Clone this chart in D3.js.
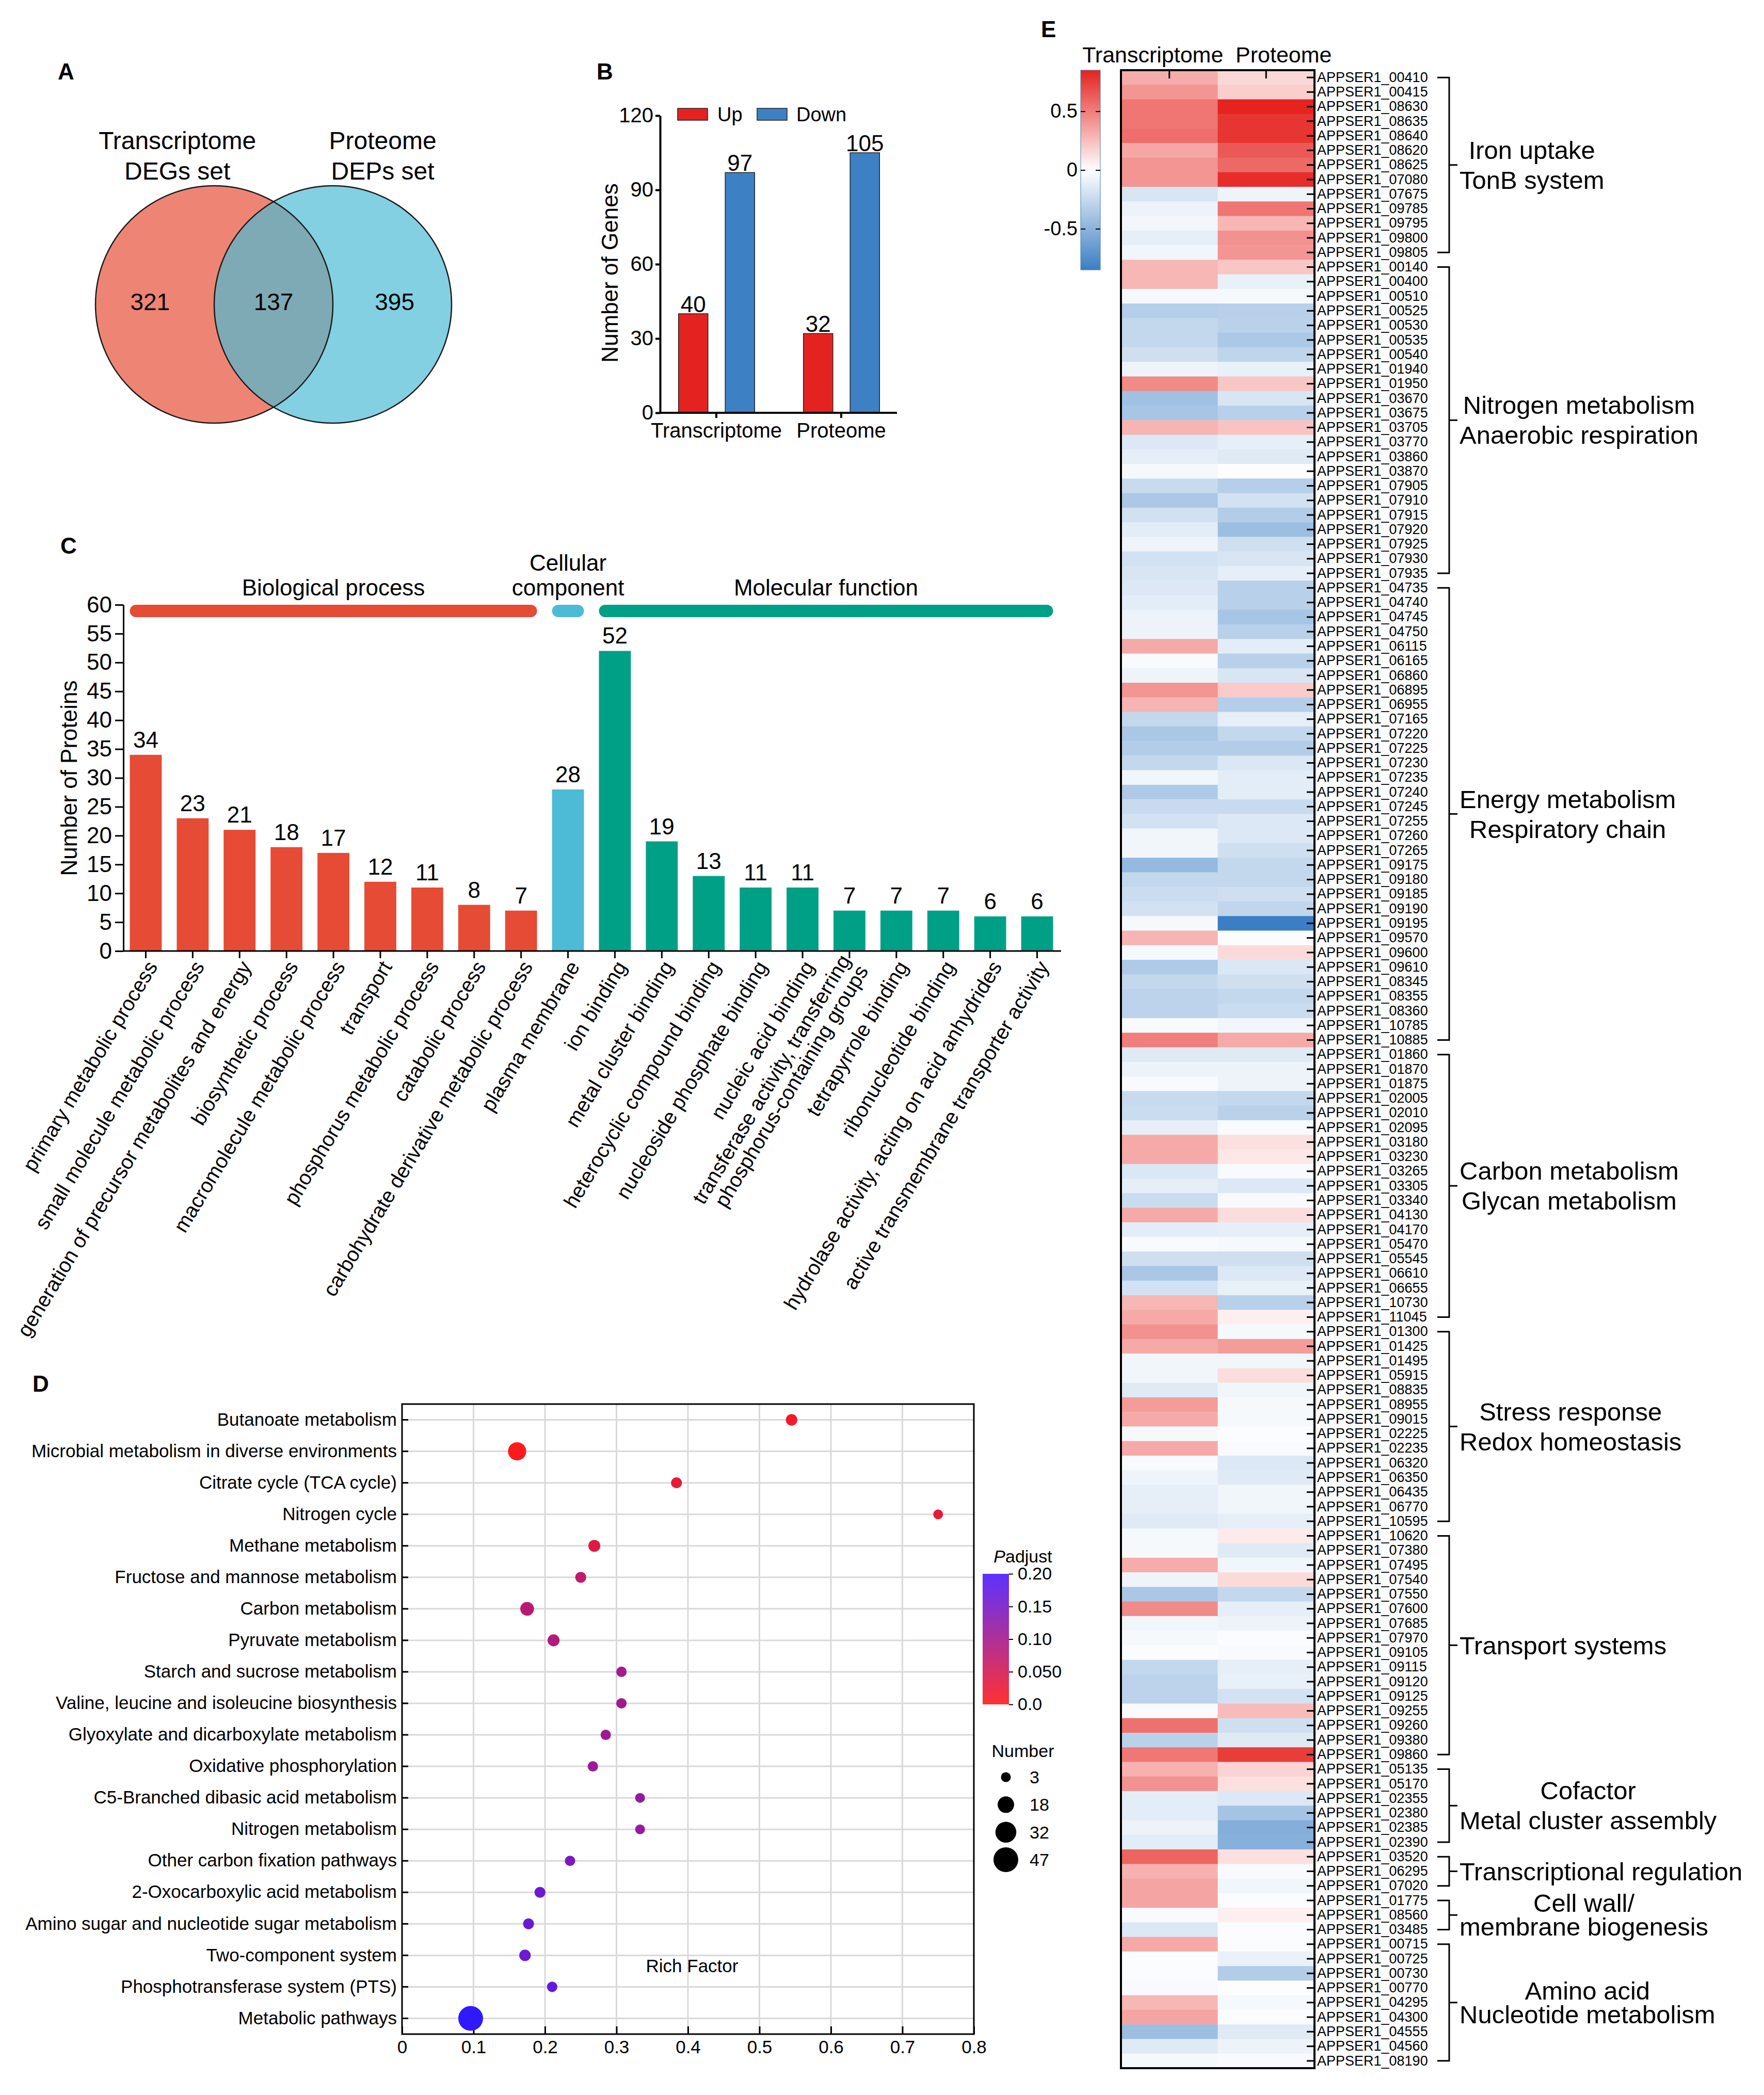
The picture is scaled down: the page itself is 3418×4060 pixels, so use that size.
<!DOCTYPE html>
<html>
<head>
<meta charset="utf-8">
<title>Transcriptome / proteome integration</title>
<script src="https://cdn.jsdelivr.net/npm/d3@7"></script>
<style>
    body { margin: 0; background: #ffffff; }
    svg { display: block; font-family: "Liberation Sans", Arial, Helvetica, sans-serif; }
</style>
</head>
<body>
<svg id="figure" width="3418" height="4060"></svg>
<script>
// ---------- panel A : venn ----------
var vennSetLabels = [["Transcriptome", "DEGs set"], ["Proteome", "DEPs set"]];
var vennCounts = [321, 137, 395];   // transcriptome only, shared, proteome only

// ---------- panel B : up / down ----------
var omicsCategories = ["Transcriptome", "Proteome"];
var regulation = ["Up", "Down"];
var upCounts = [40, 32];
var downCounts = [97, 105];
var geneTicks = [0, 30, 60, 90, 120];

// ---------- panel C : GO classification ----------
var goTerms = ["primary metabolic process", "small molecule metabolic process",
    "generation of precursor metabolites and energy", "biosynthetic process",
    "macromolecule metabolic process", "transport", "phosphorus metabolic process",
    "catabolic process", "carbohydrate derivative metabolic process", "plasma membrane",
    "ion binding", "metal cluster binding", "heterocyclic compound binding",
    "nucleoside phosphate binding", "nucleic acid binding",
    "transferase activity, transferring\nphosphorus-containing groups",
    "tetrapyrrole binding", "ribonucleotide binding",
    "hydrolase activity, acting on acid anhydrides", "active transmembrane transporter activity"];
var goCounts = [34, 23, 21, 18, 17, 12, 11, 8, 7, 28, 52, 19, 13, 11, 11, 7, 7, 7, 6, 6];
var goClass = ["BP", "BP", "BP", "BP", "BP", "BP", "BP", "BP", "BP", "CC",
    "MF", "MF", "MF", "MF", "MF", "MF", "MF", "MF", "MF", "MF"];
var goClassKeys = ["BP", "CC", "MF"];
var goClassNames = [["Biological process"], ["Cellular", "component"], ["Molecular function"]];
var proteinTicks = [0, 5, 10, 15, 20, 25, 30, 35, 40, 45, 50, 55, 60];

// ---------- panel D : KEGG enrichment ----------
var keggPathways = ["Butanoate metabolism", "Microbial metabolism in diverse environments",
    "Citrate cycle (TCA cycle)", "Nitrogen cycle", "Methane metabolism",
    "Fructose and mannose metabolism", "Carbon metabolism", "Pyruvate metabolism",
    "Starch and sucrose metabolism", "Valine, leucine and isoleucine biosynthesis",
    "Glyoxylate and dicarboxylate metabolism", "Oxidative phosphorylation",
    "C5-Branched dibasic acid metabolism", "Nitrogen metabolism",
    "Other carbon fixation pathways", "2-Oxocarboxylic acid metabolism",
    "Amino sugar and nucleotide sugar metabolism", "Two-component system",
    "Phosphotransferase system (PTS)", "Metabolic pathways"];
var keggRichFactor = [0.545, 0.161, 0.384, 0.75, 0.269, 0.25, 0.175, 0.212, 0.307, 0.307,
    0.285, 0.267, 0.333, 0.333, 0.235, 0.193, 0.177, 0.172, 0.21, 0.096];
var keggNumber = [6, 23, 5, 3, 7, 5, 11, 7, 4, 4, 4, 4, 3, 3, 4, 5, 5, 6, 4, 47];
var keggPadjust = [0.012, 0.002, 0.025, 0.025, 0.035, 0.07, 0.078, 0.085, 0.1, 0.102,
    0.105, 0.11, 0.118, 0.118, 0.148, 0.16, 0.165, 0.163, 0.172, 0.23];
var richTicks = [0, 0.1, 0.2, 0.3, 0.4, 0.5, 0.6, 0.7, 0.8];
var padjTicks = [0, 0.05, 0.1, 0.15, 0.2];
var padjTickLabels = ["0.0", "0.050", "0.10", "0.15", "0.20"];
var numberLegend = [3, 18, 32, 47];

// ---------- panel E : heatmap ----------
var geneIds = [
    // iron uptake / TonB
    "00410", "00415", "08630", "08635", "08640", "08620", "08625", "07080", "07675", "09785", "09795", "09800", "09805",
    // nitrogen metabolism
    "00140", "00400", "00510", "00525", "00530", "00535", "00540", "01940", "01950", "03670", "03675", "03705",
    "03770", "03860", "03870", "07905", "07910", "07915", "07920", "07925", "07930", "07935",
    // energy metabolism
    "04735", "04740", "04745", "04750", "06115", "06165", "06860", "06895", "06955", "07165", "07220", "07225",
    "07230", "07235", "07240", "07245", "07255", "07260", "07265", "09175", "09180", "09185", "09190", "09195",
    "09570", "09600", "09610", "08345", "08355", "08360", "10785", "10885",
    // carbon metabolism
    "01860", "01870", "01875", "02005", "02010", "02095", "03180", "03230", "03265", "03305", "03340", "04130",
    "04170", "05470", "05545", "06610", "06655", "10730", "11045",
    // stress response
    "01300", "01425", "01495", "05915", "08835", "08955", "09015", "02225", "02235", "06320", "06350", "06435",
    "06770", "10595",
    // transport
    "10620", "07380", "07495", "07540", "07550", "07600", "07685", "07970", "09105", "09115", "09120", "09125",
    "09255", "09260", "09380", "09860",
    // cofactor
    "05135", "05170", "02355", "02380", "02385", "02390",
    // transcriptional regulation
    "03520", "06295", "07020",
    // cell wall
    "01775", "08560", "03485",
    // amino acid
    "00715", "00725", "00730", "00770", "04295", "04300", "04555", "04560", "08190"];
var transcriptomeFc = [
    0.32, 0.41, 0.53, 0.53, 0.56, 0.34, 0.41, 0.41, -0.17, -0.08, -0.05, -0.11, -0.06,
    0.28, 0.28, -0.04, -0.32, -0.26, -0.26, -0.21, -0.07, 0.45, -0.41, -0.38, 0.29,
    -0.15, -0.11, -0.04, -0.24, -0.36, -0.2, -0.12, -0.07, -0.19, -0.17,
    -0.15, -0.12, -0.08, -0.08, 0.33, -0.03, -0.07, 0.41, 0.29, -0.26, -0.37, -0.33,
    -0.26, -0.06, -0.35, -0.24, -0.19, -0.06, -0.06, -0.46, -0.26, -0.23, -0.19, -0.04,
    0.29, -0.04, -0.35, -0.26, -0.29, -0.29, -0.03, 0.5,
    -0.14, -0.08, -0.03, -0.24, -0.23, -0.11, 0.33, 0.33, -0.16, -0.11, -0.23, 0.33,
    -0.12, -0.03, -0.21, -0.37, -0.19, 0.28, 0.33,
    0.42, 0.33, -0.06, -0.06, -0.14, 0.38, 0.33, -0.04, 0.33, -0.03, -0.07, -0.11,
    -0.11, -0.14,
    -0.04, -0.04, 0.32, -0.07, -0.37, 0.45, -0.06, -0.04, -0.02, -0.26, -0.29, -0.29,
    -0.03, 0.55, -0.3, 0.52,
    0.3, 0.42, -0.12, -0.12, -0.08, -0.12,
    0.6, 0.3, 0.35,
    0.35, -0.03, -0.15,
    0.33, -0.02, -0.02, -0.03, 0.28, 0.35, -0.43, -0.14, -0.04];
var proteomeFc = [
    0.15, 0.19, 0.85, 0.78, 0.78, 0.64, 0.58, 0.81, -0.07, 0.53, 0.28, 0.42, 0.41,
    0.22, -0.1, -0.04, -0.31, -0.3, -0.36, -0.28, -0.1, 0.22, -0.17, -0.31, 0.23,
    -0.11, -0.14, -0.01, -0.32, -0.19, -0.33, -0.43, -0.21, -0.17, -0.11,
    -0.31, -0.31, -0.38, -0.31, -0.12, -0.31, -0.17, 0.2, -0.32, -0.11, -0.26, -0.33,
    -0.16, -0.12, -0.12, -0.24, -0.15, -0.15, -0.21, -0.26, -0.26, -0.21, -0.27, -0.85,
    -0.02, 0.14, -0.16, -0.21, -0.26, -0.23, -0.06, 0.33,
    -0.14, -0.08, -0.08, -0.26, -0.3, -0.03, 0.12, 0.09, -0.03, -0.15, -0.03, 0.13,
    -0.11, -0.04, -0.21, -0.15, -0.1, -0.31, 0.06,
    -0.04, 0.38, -0.06, 0.13, -0.06, -0.04, -0.04, -0.02, -0.03, -0.15, -0.14, -0.06,
    -0.06, -0.11,
    0.08, -0.14, -0.06, 0.14, -0.26, -0.11, -0.08, -0.02, -0.03, -0.11, -0.1, -0.19,
    0.26, -0.21, -0.14, 0.75,
    0.17, 0.12, -0.15, -0.39, -0.53, -0.52,
    0.12, -0.03, -0.06,
    -0.02, 0.06, -0.02,
    -0.02, -0.09, -0.33, -0.01, -0.04, -0.02, -0.14, -0.08, -0.03];
var heatColumns = ["Transcriptome", "Proteome"];
var heatTicks = [0.5, 0, -0.5];
var groupNames = [["Iron uptake", "TonB system"], ["Nitrogen metabolism", "Anaerobic respiration"],
    ["Energy metabolism", "Respiratory chain"], ["Carbon metabolism", "Glycan metabolism"],
    ["Stress response", "Redox homeostasis"], ["Transport systems"],
    ["Cofactor", "Metal cluster assembly"], ["Transcriptional regulation"],
    ["Cell wall/", "membrane biogenesis"], ["Amino acid", "Nucleotide metabolism"]];
var groupSizes = [13, 22, 32, 19, 14, 16, 6, 3, 3, 9];

!function () {
    var svg = d3.select("#figure");
    svg.append("rect").attr("width", 3418).attr("height", 4060).attr("fill", "#ffffff");
    var defs = svg.append("defs");

    // small helper to style an axis group
    function styleAxis(g, size, width) {
        g.selectAll("text").attr("font-size", size).attr("fill", "#000");
        g.selectAll("line").attr("stroke", "#000").attr("stroke-width", width);
        g.select(".domain").attr("stroke", "#000").attr("stroke-width", width);
    }

    // panel letters
    [["A", 112, 154], ["B", 1156, 154], ["C", 117, 1073], ["D", 63, 2697], ["E", 2017, 72]]
        .forEach(function (p) {
            svg.append("text").attr("x", p[1]).attr("y", p[2])
                .attr("font-size", 44).attr("font-weight", "bold").text(p[0]);
        });

    // ================= A : venn =================
    var vx = d3.scaleLinear().domain([0, 1]).range([415, 645]),
        vr = 230, vcy = 590;
    var vennFill = ["#ee8574", "#82d0e2"];
    defs.append("clipPath").attr("id", "vennClip")
        .append("circle").attr("cx", vx(0)).attr("cy", vcy).attr("r", vr);
    var gA = svg.append("g");
    gA.selectAll(".set").data(vennSetLabels).enter().append("circle")
        .attr("class", "set")
        .attr("cx", function (d, i) { return vx(i); })
        .attr("cy", vcy).attr("r", vr)
        .attr("fill", function (d, i) { return vennFill[i]; });
    gA.append("circle").attr("cx", vx(1)).attr("cy", vcy).attr("r", vr)
        .attr("clip-path", "url(#vennClip)").attr("fill", "#7eaab5");
    gA.selectAll(".ring").data(vennSetLabels).enter().append("circle")
        .attr("cx", function (d, i) { return vx(i); })
        .attr("cy", vcy).attr("r", vr)
        .attr("fill", "none").attr("stroke", "#1a1a1a").attr("stroke-width", 2.5);
    var countPos = [-0.54, 0.5, 1.52];
    gA.selectAll(".cnt").data(vennCounts).enter().append("text")
        .attr("x", function (d, i) { return vx(countPos[i]); })
        .attr("y", vcy - 5).attr("dy", "0.35em")
        .attr("text-anchor", "middle").attr("font-size", 46)
        .text(function (d) { return d; });
    var setLabelX = [vx(-0.31), vx(1.42)];
    vennSetLabels.forEach(function (lines, i) {
        lines.forEach(function (ln, k) {
            gA.append("text").attr("x", setLabelX[i]).attr("y", 289 + k * 59)
                .attr("text-anchor", "middle").attr("font-size", 48).text(ln);
        });
    });

    // ================= B : up / down bars =================
    var x0 = d3.scaleBand().domain(omicsCategories).range([1267, 1751]),
        x1 = d3.scaleBand().domain(regulation).range([31, 212]).paddingInner(0.37).paddingOuter(0.185),
        yB = d3.scaleLinear().domain([0, 120]).range([800, 224]);
    var regColor = {Up: "#e42320", Down: "#3d80c4"};
    var bData = [];
    omicsCategories.forEach(function (c, i) {
        bData.push({cat: c, key: "Up", value: upCounts[i]});
        bData.push({cat: c, key: "Down", value: downCounts[i]});
    });
    var gB = svg.append("g");
    gB.selectAll(".bar").data(bData).enter().append("rect")
        .attr("x", function (d) { return x0(d.cat) + x1(d.key); })
        .attr("y", function (d) { return yB(d.value); })
        .attr("width", x1.bandwidth())
        .attr("height", function (d) { return yB(0) - yB(d.value); })
        .attr("fill", function (d) { return regColor[d.key]; })
        .attr("stroke", "#222").attr("stroke-width", 1.5);
    gB.selectAll(".val").data(bData).enter().append("text")
        .attr("x", function (d) { return x0(d.cat) + x1(d.key) + x1.bandwidth() / 2; })
        .attr("y", function (d) { return yB(d.value) - 3; })
        .attr("text-anchor", "middle").attr("font-size", 44)
        .text(function (d) { return d.value; });
    var axB = gB.append("g").attr("transform", "translate(1279,0)")
        .call(d3.axisLeft(yB).tickValues(geneTicks).tickSize(9).tickPadding(4).tickSizeOuter(0));
    styleAxis(axB, 40, 4);
    var axBx = gB.append("g").attr("transform", "translate(0,800)")
        .call(d3.axisBottom(x0).tickSize(10).tickPadding(10).tickSizeOuter(0));
    styleAxis(axBx, 40, 4);
    axBx.select(".domain").attr("d", "M1277,0H1738");
    gB.append("text").attr("transform", "translate(1197,529) rotate(-90)")
        .attr("text-anchor", "middle").attr("font-size", 44).text("Number of Genes");
    var legX = {Up: [1313, 1390], Down: [1467, 1543]};
    regulation.forEach(function (k) {
        gB.append("rect").attr("x", legX[k][0]).attr("y", 210).attr("width", 58).attr("height", 23)
            .attr("fill", regColor[k]).attr("stroke", "#222").attr("stroke-width", 1.5);
        gB.append("text").attr("x", legX[k][1]).attr("y", 235).attr("font-size", 38).text(k);
    });

    // ================= C : GO bars =================
    var classColor = {BP: "#e64b35", CC: "#4dbbd5", MF: "#00a087"};
    var xC = d3.scaleBand().domain(goTerms).range([237, 2055]).paddingInner(0.32).paddingOuter(0.16),
        yC = d3.scaleLinear().domain([0, 60]).range([1843, 1172]);
    var gC = svg.append("g");
    gC.selectAll(".bar").data(goTerms).enter().append("rect")
        .attr("x", function (d) { return xC(d); })
        .attr("y", function (d, i) { return yC(goCounts[i]); })
        .attr("width", xC.bandwidth())
        .attr("height", function (d, i) { return yC(0) - yC(goCounts[i]); })
        .attr("fill", function (d, i) { return classColor[goClass[i]]; });
    gC.selectAll(".val").data(goTerms).enter().append("text")
        .attr("x", function (d) { return xC(d) + xC.bandwidth() / 2; })
        .attr("y", function (d, i) { return yC(goCounts[i]) - 14; })
        .attr("text-anchor", "middle").attr("font-size", 44)
        .text(function (d, i) { return goCounts[i]; });
    // class bands on top
    goClassKeys.forEach(function (k, ci) {
        var terms = goTerms.filter(function (t, i) { return goClass[i] === k; });
        var xa = xC(terms[0]), xb = xC(terms[terms.length - 1]) + xC.bandwidth();
        gC.append("rect").attr("x", xa).attr("y", yC(60)).attr("width", xb - xa).attr("height", 24)
            .attr("rx", 12).attr("fill", classColor[k]);
        var lines = goClassNames[ci];
        lines.forEach(function (ln, li) {
            gC.append("text").attr("x", (xa + xb) / 2)
                .attr("y", 1154 - (lines.length - 1 - li) * 48)
                .attr("text-anchor", "middle").attr("font-size", 44).text(ln);
        });
    });
    var axC = gC.append("g").attr("transform", "translate(239,0)")
        .call(d3.axisLeft(yC).tickValues(proteinTicks).tickSize(16).tickPadding(6).tickSizeOuter(0));
    styleAxis(axC, 44, 3);
    var axCx = gC.append("g").attr("transform", "translate(0,1843)")
        .call(d3.axisBottom(xC).tickSize(14).tickSizeOuter(0).tickFormat(""));
    styleAxis(axCx, 40, 3);
    axCx.select(".domain").attr("d", "M239,0H2056");
    gC.selectAll(".xlab").data(goTerms).enter().append("text")
        .attr("transform", function (d) {
            return "translate(" + (xC(d) + xC.bandwidth() / 2 + 12) + ",1866) rotate(-59)";
        })
        .attr("text-anchor", "end").attr("font-size", 40)
        .each(function (d) {
            var t = d3.select(this), lines = d.split("\n");
            if (lines.length === 1) {
                t.attr("dy", "0.35em").text(d);
            } else {
                lines.forEach(function (ln, k) {
                    t.append("tspan").attr("x", 0).attr("dy", k === 0 ? "-0.25em" : "1.0em").text(ln);
                });
            }
        });
    gC.append("text").attr("transform", "translate(149,1508) rotate(-90)")
        .attr("text-anchor", "middle").attr("font-size", 44).text("Number of Proteins");

    // ================= D : KEGG bubbles =================
    var xD = d3.scaleLinear().domain([0, 0.8]).range([779, 1887]),
        yD = d3.scaleBand().domain(keggPathways).range([2721, 3942]),
        rD = d3.scaleRadial().domain([3, 47]).range([9.5, 24]),
        cD = d3.scaleLinear().domain([0, 0.2]).range(["#ff1a1a", "#4a1aff"]).clamp(false);
    var gD = svg.append("g");
    // grid
    gD.selectAll(".vgrid").data(richTicks.slice(1, -1)).enter().append("line")
        .attr("x1", function (d) { return xD(d); }).attr("x2", function (d) { return xD(d); })
        .attr("y1", 2721).attr("y2", 3942)
        .attr("stroke", "#d9d9d9").attr("stroke-width", 3);
    gD.selectAll(".hgrid").data(keggPathways).enter().append("line")
        .attr("x1", 779).attr("x2", 1887)
        .attr("y1", function (d) { return yD(d) + yD.bandwidth() / 2; })
        .attr("y2", function (d) { return yD(d) + yD.bandwidth() / 2; })
        .attr("stroke", "#d9d9d9").attr("stroke-width", 3);
    gD.append("rect").attr("x", 779).attr("y", 2721).attr("width", 1887 - 779).attr("height", 3942 - 2721)
        .attr("fill", "none").attr("stroke", "#000").attr("stroke-width", 3);
    var axD = gD.append("g").attr("transform", "translate(779,0)")
        .call(d3.axisLeft(yD).tickSizeInner(-12).tickSizeOuter(0).tickPadding(10));
    styleAxis(axD, 35, 3);
    axD.select(".domain").remove();
    var axDx = gD.append("g").attr("transform", "translate(0,3942)")
        .call(d3.axisBottom(xD).tickValues(richTicks).tickSizeInner(-15).tickSizeOuter(0).tickPadding(12)
            .tickFormat(function (d) { return String(d); }));
    styleAxis(axDx, 35, 3);
    axDx.select(".domain").remove();
    gD.selectAll(".dot").data(keggPathways).enter().append("circle")
        .attr("cx", function (d, i) { return xD(keggRichFactor[i]); })
        .attr("cy", function (d) { return yD(d) + yD.bandwidth() / 2; })
        .attr("r", function (d, i) { return rD(keggNumber[i]); })
        .attr("fill", function (d, i) { return cD(keggPadjust[i]); });
    gD.append("text").attr("x", 1341).attr("y", 3822).attr("text-anchor", "middle")
        .attr("font-size", 35).text("Rich Factor");
    // colour legend
    var grad = defs.append("linearGradient").attr("id", "padjGrad")
        .attr("x1", 0).attr("y1", 1).attr("x2", 0).attr("y2", 0);
    [0, 0.5, 1].forEach(function (t) {
        grad.append("stop").attr("offset", t).attr("stop-color", cD(t * 0.2));
    });
    var pTitle = gD.append("text").attr("x", 1982).attr("y", 3028).attr("text-anchor", "middle")
        .attr("font-size", 34);
    pTitle.append("tspan").attr("font-style", "italic").text("P");
    pTitle.append("tspan").text("adjust");
    gD.append("rect").attr("x", 1904).attr("y", 3050).attr("width", 51).attr("height", 253)
        .attr("fill", "url(#padjGrad)").attr("opacity", 0.9);
    var pScale = d3.scaleLinear().domain([0, 0.2]).range([3303, 3050]);
    var axP = gD.append("g").attr("transform", "translate(1955,0)")
        .call(d3.axisRight(pScale).tickValues(padjTicks).tickSize(8).tickPadding(9)
            .tickFormat(function (d, i) { return padjTickLabels[i]; }));
    styleAxis(axP, 34, 2);
    axP.select(".domain").remove();
    gD.append("text").attr("x", 1982).attr("y", 3405).attr("text-anchor", "middle")
        .attr("font-size", 34).text("Number");
    var nLegY = d3.scalePoint().domain(numberLegend).range([3444, 3604]);
    gD.selectAll(".nleg").data(numberLegend).enter().append("circle")
        .attr("cx", 1949).attr("cy", function (d) { return nLegY(d); })
        .attr("r", function (d) { return rD(d); }).attr("fill", "#000");
    gD.selectAll(".nlab").data(numberLegend).enter().append("text")
        .attr("x", 1995).attr("y", function (d) { return nLegY(d); }).attr("dy", "0.35em")
        .attr("font-size", 34).text(function (d) { return d; });

    // ================= E : heatmap =================
    var geneLabels = geneIds.map(function (g) { return "APPSER1_" + g; });
    var rowE = d3.scaleBand().domain(geneLabels).range([136, 4008]),
        colE = d3.scaleBand().domain(heatColumns).range([2172, 2547]),
        cE = d3.scaleLinear().domain([-0.85, 0, 0.85]).range(["#3b7ec4", "#ffffff", "#e5231f"]).clamp(true);
    var values = [transcriptomeFc, proteomeFc];
    var cells = [];
    geneLabels.forEach(function (g, i) {
        heatColumns.forEach(function (c, j) {
            cells.push({gene: g, col: c, value: values[j][i]});
        });
    });
    var gE = svg.append("g");
    gE.selectAll(".cell").data(cells).enter().append("rect")
        .attr("x", function (d) { return colE(d.col); })
        .attr("y", function (d) { return rowE(d.gene); })
        .attr("width", colE.bandwidth() + 0.5)
        .attr("height", rowE.bandwidth() + 0.5)
        .attr("fill", function (d) { return cE(d.value); });
    gE.append("rect").attr("x", 2172).attr("y", 136).attr("width", 375).attr("height", 3872)
        .attr("fill", "none").attr("stroke", "#000").attr("stroke-width", 4);
    var axE = gE.append("g").attr("transform", "translate(2547,0)")
        .call(d3.axisRight(rowE).tickSizeInner(-15).tickSizeOuter(0).tickPadding(5));
    styleAxis(axE, 27, 3);
    axE.select(".domain").remove();
    var axEt = gE.append("g").attr("transform", "translate(0,136)")
        .call(d3.axisTop(colE).tickSizeInner(-16).tickSizeOuter(0).tickFormat(""));
    styleAxis(axEt, 27, 3);
    axEt.select(".domain").remove();
    var headOffset = [-32, 34];
    heatColumns.forEach(function (c, j) {
        gE.append("text").attr("x", colE(c) + colE.bandwidth() / 2 + headOffset[j]).attr("y", 121)
            .attr("text-anchor", "middle").attr("font-size", 43).text(c);
    });
    // colour bar
    var gradE = defs.append("linearGradient").attr("id", "fcGrad")
        .attr("x1", 0).attr("y1", 1).attr("x2", 0).attr("y2", 0);
    [-0.85, 0, 0.85].forEach(function (v, k) {
        gradE.append("stop").attr("offset", k / 2).attr("stop-color", cE(v));
    });
    var fcScale = d3.scaleLinear().domain([-0.85, 0.85]).range([523, 136]);
    gE.append("rect").attr("x", 2094).attr("y", 136).attr("width", 38).attr("height", 387)
        .attr("fill", "url(#fcGrad)").attr("stroke", "#4a7fb8").attr("stroke-width", 1);
    var axF = gE.append("g").attr("transform", "translate(2094,0)")
        .call(d3.axisLeft(fcScale).tickValues(heatTicks).tickSizeInner(-9).tickPadding(6)
            .tickFormat(function (d) { return String(d); }));
    styleAxis(axF, 38, 2);
    axF.select(".domain").remove();
    var axF2 = gE.append("g").attr("transform", "translate(2132,0)")
        .call(d3.axisRight(fcScale).tickValues(heatTicks).tickSizeInner(-9).tickFormat(""));
    styleAxis(axF2, 38, 2);
    axF2.select(".domain").remove();

    // group brackets and labels
    var start = 0;
    groupSizes.forEach(function (n, gi) {
        var y1 = rowE(geneLabels[start]) + rowE.bandwidth() / 2,
            y2 = rowE(geneLabels[start + n - 1]) + rowE.bandwidth() / 2,
            ym = (y1 + y2) / 2;
        gE.append("path").attr("d", "M2785," + y1 + "H2808V" + y2 + "H2785")
            .attr("fill", "none").attr("stroke", "#000").attr("stroke-width", 3);
        gE.append("path").attr("d", "M2808," + ym + "H2824")
            .attr("fill", "none").attr("stroke", "#000").attr("stroke-width", 3);
        var lines = groupNames[gi],
            gap = gi >= 8 ? 46 : 58,
            block = gE.append("g");
        var texts = lines.map(function (ln, k) {
            return block.append("text")
                .attr("y", ym + (k - (lines.length - 1) / 2) * gap).attr("dy", "0.35em")
                .attr("text-anchor", "middle").attr("font-size", 49).text(ln);
        });
        var maxW = d3.max(texts, function (t) { return t.node().getComputedTextLength(); });
        texts.forEach(function (t) { t.attr("x", 2828 + maxW / 2); });
        start += n;
    });
}();
</script>
</body>
</html>
